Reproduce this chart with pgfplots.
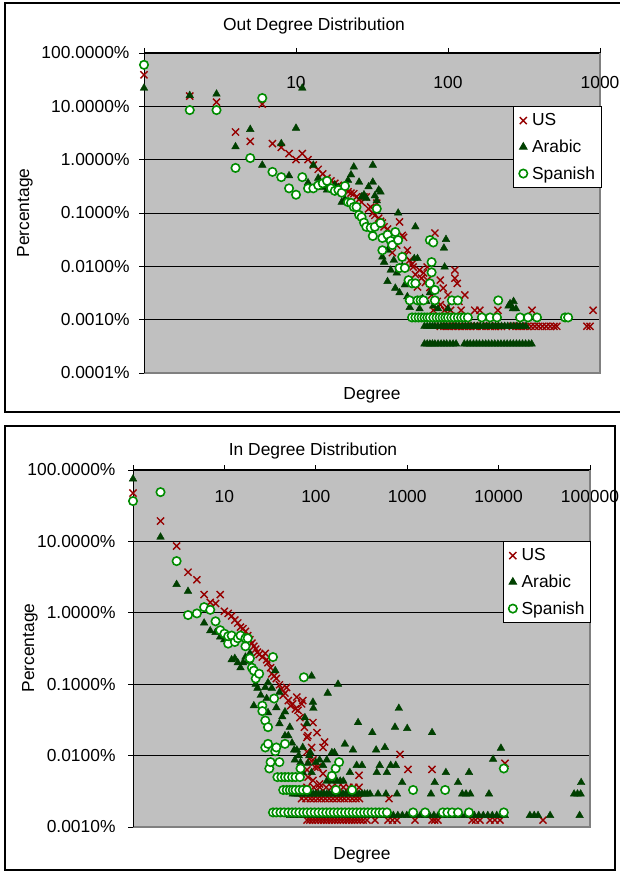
\documentclass[border=0pt]{standalone}
\usepackage{fontspec}
\setmainfont{Liberation Sans}
\usepackage{pgfplots}
\pgfplotsset{compat=1.18}
\definecolor{usred}{RGB}{150,0,0}
\definecolor{argreen}{RGB}{0,64,0}
\definecolor{spgreen}{RGB}{0,140,0}
\definecolor{plotbg}{RGB}{192,192,192}
\definecolor{edgegray}{RGB}{128,128,128}
\newcommand{\chartfont}{\fontsize{17.4}{20}\selectfont}

\pgfplotsset{
  usmark/.style={only marks, mark=x, mark size=5pt, color=usred, line width=1.4pt},
  armark/.style={only marks, mark=triangle*, mark size=4.4pt, color=argreen},
  spmark/.style={only marks, mark=*, mark size=4.2pt, color=spgreen, mark options={fill=white}, line width=1.6pt},
}

\begin{document}
\begin{tikzpicture}[x=1pt, y=1pt, font=\chartfont]
\useasboundingbox (0,0) rectangle (619,872);
\fill[white] (0,0) rectangle (619,872);
% panel frames
\draw[black, line width=1.3pt] (5,869) rectangle (624,460);
\draw[black, line width=1.3pt] (5,446) rectangle (615,2);

\node at (314,846) {Out Degree Distribution};
\node at (372,477) {Degree};
\node[rotate=90] at (25,659) {Percentage};

\node at (313,421) {In Degree Distribution};
\node at (362,17) {Degree};
\node[rotate=90] at (30,224) {Percentage};

% ---------- out degree ----------
\begin{axis}[at={(144pt,499pt)}, anchor=south west, width=456pt, height=320pt,
  scale only axis, xmode=log, ymode=log, clip=false,
  axis line style={draw=none},
  axis background/.style={fill=plotbg},
  xtick pos=right, xticklabel pos=right,
  ytick pos=left, yticklabel pos=left,
  tick align=outside, major tick length=5pt,
  tick style={black, line width=0.8pt},
  xminorticks=false, yminorticks=false,
  ymajorgrids, major grid style={black, line width=0.8pt},
  ticklabel style={font=\chartfont},
  xticklabel style={anchor=center, yshift=-34.5pt},
  legend cell align=left,
  legend image code/.code={\draw[#1] plot coordinates {(0pt,0pt)}; \path (-5pt,0pt) (6pt,0pt);},
  xmin=1, xmax=1000, ymin=0.0001, ymax=100,
  xtick={1,10,100,1000}, xticklabels={,10,100,1000},
  ytick={0.0001,0.001,0.01,0.1,1,10,100},
  yticklabels={0.0001\%,0.0010\%,0.0100\%,0.1000\%,1.0000\%,10.0000\%,100.0000\%},
  yticklabel style={xshift=-6pt},
  legend style={at={(1.003,0.8333)}, anchor=north east, draw=black, line width=0.8pt, fill=white,
    font=\chartfont, row sep=8.5pt, inner xsep=4pt, inner ysep=5pt}]
\draw[edgegray, line width=1.2pt] (rel axis cs:0,0) -- (rel axis cs:1,0) -- (rel axis cs:1,1);
\draw[black, line width=1pt] (rel axis cs:0,0) -- (rel axis cs:0,1) -- (rel axis cs:1,1);
\addplot[usmark] coordinates {
(1,39) (2,15.6) (3,12) (4,3.3) (5,2.2) (6,11) (7,2.0) (8,1.7) (9,1.3) (10,1.0) (11,1.3) (12,1.0)
(13,0.79) (14,0.66) (15,0.54) (16,0.45) (17,0.40) (18,0.36) (19,0.33) (20,0.30) (21,0.28) (22,0.25)
(23,0.236) (24,0.23) (25,0.20) (26,0.18) (27,0.16) (28,0.20) (29,0.20) (30,0.12) (31,0.129) (32,0.10)
(33,0.09) (34,0.153) (35,0.08) (36,0.07) (37,0.065) (38,0.055) (40,0.05) (42,0.044) (43,0.018) (44,0.03)
(46,0.025) (48,0.068) (50,0.038) (51,0.035) (52,0.016) (54,0.02) (56,0.013) (58,0.011) (59,0.0097)
(61,0.007) (63,0.0041) (65,0.0085) (67,0.006) (69,0.0075) (71,0.005) (73,0.0097) (73,0.0055) (76,0.004)
(78,0.0029) (80,0.0015) (82,0.042) (85,0.0022) (89,0.0055) (89,0.0019) (93,0.0039) (95,0.0015)
(98,0.0017) (100,0.0029) (104,0.0015) (111,0.0085) (111,0.006) (115,0.0048) (118,0.0022) (122,0.0015)
(129,0.0029) (150,0.0015) (162,0.0015) (213,0.0015) (357,0.0015) (900,0.0015)
(89,0.00075) (94,0.00075) (100,0.00075) (106,0.00075) (112,0.00075) (118,0.00075) (125,0.00075)
(132,0.00075) (140,0.00075) (148,0.00075) (155,0.00075) (167,0.00075) (178,0.00075) (190,0.00075)
(203,0.00075) (215,0.00075) (225,0.00075) (265,0.00075) (280,0.00075) (297,0.00075) (315,0.00075)
(333,0.00075) (352,0.00075) (373,0.00075) (395,0.00075) (418,0.00075) (443,0.00075) (470,0.00075)
(498,0.00075) (520,0.00075) (820,0.00075) (860,0.00075)
};
\addlegendentry{US}
\addplot[armark] coordinates {
(1,22) (2,16) (3,17) (4,1.75) (5,3.7) (6,0.79) (8,2.0) (9,0.5) (10,3.9) (11,22) (12,0.37) (13,0.79)
(14,0.45) (15,0.3) (16,0.27) (18,0.34) (19,0.3) (20,0.16) (21,0.18) (22,0.41) (23,0.52) (24,0.73)
(26,0.38) (27,0.2) (28,0.22) (29,0.19) (30,0.31) (32,0.79) (32,0.38) (33,0.21) (34,0.17) (35,0.27)
(36,0.247) (37,0.015) (38,0.012) (40,0.0052) (40,0.02) (42,0.0085) (44,0.013) (45,0.0039) (46,0.0075)
(47,0.1) (48,0.0032) (50,0.01) (52,0.0045) (54,0.0027) (56,0.0017) (60,0.014) (61,0.055) (63,0.014)
(65,0.0016) (68,0.0025) (72,0.0022) (76,0.0032) (80,0.0018) (86,0.0016) (94,0.022) (95,0.0097)
(97,0.032) (100,0.0016) (250,0.0018) (256,0.002) (267,0.0016) (270,0.0022) (280,0.0016)
(70,0.00075) (73,0.00075) (76,0.00075) (79,0.00075) (82,0.00075) (86,0.00075) (90,0.00075)
(94,0.00075) (98,0.00075) (103,0.00075) (108,0.00075) (113,0.00075) (118,0.00075) (124,0.00075)
(130,0.00075) (136,0.00075) (142,0.00075) (149,0.00075) (156,0.00075) (163,0.00075) (171,0.00075)
(179,0.00075) (187,0.00075) (196,0.00075) (205,0.00075) (215,0.00075) (225,0.00075) (236,0.00075)
(247,0.00075) (259,0.00075) (271,0.00075) (284,0.00075) (297,0.00075) (311,0.00075) (326,0.00075)
(70,0.00035) (73,0.00035) (76,0.00035) (79,0.00035) (82,0.00035) (86,0.00035) (90,0.00035)
(94,0.00035) (98,0.00035) (103,0.00035) (108,0.00035) (113,0.00035) (128,0.00035) (134,0.00035)
(140,0.00035) (147,0.00035) (154,0.00035) (161,0.00035) (169,0.00035) (177,0.00035) (185,0.00035)
(194,0.00035) (203,0.00035) (213,0.00035) (223,0.00035) (234,0.00035) (245,0.00035) (257,0.00035)
(269,0.00035) (282,0.00035) (295,0.00035) (309,0.00035) (324,0.00035) (340,0.00035) (355,0.00035)
};
\addlegendentry{Arabic}
\addplot[spmark] coordinates {
(1,60) (2,8.5) (3,8.5) (4,0.7) (5,1.07) (6,14.3) (7,0.59) (8,0.47) (9,0.29) (10,0.22) (11,0.47)
(12,0.29) (13,0.29) (14,0.33) (15,0.36) (16,0.40) (17,0.29) (18,0.26) (19,0.27) (20,0.24) (21,0.32)
(22,0.16) (23,0.155) (24,0.13) (25,0.13) (26,0.092) (27,0.084) (28,0.066) (29,0.055) (31,0.053)
(32,0.037) (33,0.055) (34,0.12) (36,0.065) (37,0.034) (37,0.02) (40,0.039) (42,0.03) (43,0.025)
(45,0.044) (47,0.031) (48,0.0093) (50,0.015) (52,0.0093) (55,0.0055) (56,0.0023) (58,0.0048)
(61,0.0048) (63,0.0023) (66,0.0023) (69,0.0023) (76,0.0048) (76,0.031) (78,0.012) (78,0.0077)
(80,0.028) (82,0.0036) (82,0.0023) (106,0.0023) (116,0.0023) (214,0.0023)
(58,0.0011) (61,0.0011) (64,0.0011) (67,0.0011) (70,0.0011) (73,0.0011) (76,0.0011) (80,0.0011)
(84,0.0011) (88,0.0011) (92,0.0011) (96,0.0011) (100,0.0011) (105,0.0011) (110,0.0011) (116,0.0011)
(122,0.0011) (128,0.0011) (135,0.0011) (167,0.0011) (189,0.0011) (210,0.0011) (298,0.0011)
(336,0.0011) (385,0.0011) (589,0.0011) (617,0.0011)
};
\addlegendentry{Spanish}
\end{axis}

% ---------- in degree ----------
\begin{axis}[at={(133pt,45pt)}, anchor=south west, width=457pt, height=357pt,
  scale only axis, xmode=log, ymode=log, clip=false,
  axis line style={draw=none},
  axis background/.style={fill=plotbg},
  xtick pos=right, xticklabel pos=right,
  ytick pos=left, yticklabel pos=left,
  tick align=outside, major tick length=5pt,
  tick style={black, line width=0.8pt},
  xminorticks=false, yminorticks=false,
  ymajorgrids, major grid style={black, line width=0.8pt},
  ticklabel style={font=\chartfont},
  xticklabel style={anchor=center, yshift=-31.5pt},
  legend cell align=left,
  legend image code/.code={\draw[#1] plot coordinates {(0pt,0pt)}; \path (-5pt,0pt) (6pt,0pt);},
  xmin=1, xmax=100000, ymin=0.001, ymax=100,
  xtick={1,10,100,1000,10000,100000}, xticklabels={,10,100,1000,10000,100000},
  ytick={0.001,0.01,0.1,1,10,100},
  yticklabels={0.0010\%,0.0100\%,0.1000\%,1.0000\%,10.0000\%,100.0000\%},
  yticklabel style={xshift=-9pt},
  legend style={at={(1.002,0.8)}, anchor=north east, draw=black, line width=0.8pt, fill=white,
    font=\chartfont, row sep=8.5pt, inner xsep=4pt, inner ysep=5pt}]
\draw[edgegray, line width=1.2pt] (rel axis cs:0,0) -- (rel axis cs:1,0) -- (rel axis cs:1,1);
\draw[black, line width=1pt] (rel axis cs:0,0) -- (rel axis cs:0,1) -- (rel axis cs:1,1);
\addplot[usmark] coordinates {
(1,47.6) (2,19.3) (3,8.6) (4,3.7) (5,2.9) (6,1.8) (7,1.4) (8,1.35) (9,1.8) (10,1.05) (11,0.98)
(12,0.9) (13,0.79) (14,0.72) (15,0.63) (16,0.6) (17,0.55) (18,0.48) (19,0.42) (20,0.375) (21,0.34)
(22,0.31) (23,0.28) (24,0.26) (26,0.24) (28,0.27) (29,0.22) (30,0.2) (32,0.17) (33,0.14) (35,0.13)
(37,0.12) (40,0.098) (42,0.085) (44,0.07) (46,0.075) (48,0.09) (50,0.059) (53,0.05) (56,0.053)
(60,0.045) (62,0.066) (64,0.043) (67,0.034) (70,0.053) (72,0.059) (75,0.025) (80,0.018) (80,0.0113)
(80,0.0063) (82,0.019) (82,0.005) (85,0.009) (90,0.013) (93,0.029) (93,0.0087) (93,0.0045)
(98,0.0069) (103,0.021) (105,0.0069) (110,0.004) (120,0.0056) (120,0.013) (125,0.0155) (297,0.0053)
(632,0.0025) (834,0.0104) (1020,0.0064) (1868,0.0064) (11750,0.0078)
(80,0.0036) (95,0.0036) (110,0.0036) (130,0.0036) (150,0.0036) (175,0.0036) (200,0.0036)
(230,0.0036) (260,0.0036) (297,0.0036)
(70,0.0025) (78,0.0025) (87,0.0025) (95,0.0025) (105,0.0025) (115,0.0025) (127,0.0025) (140,0.0025)
(154,0.0025) (170,0.0025) (187,0.0025) (205,0.0025) (226,0.0025) (250,0.0025) (275,0.0025) (300,0.0025)
(80,0.00125) (86,0.00125) (92,0.00125) (99,0.00125) (106,0.00125) (114,0.00125) (122,0.00125)
(131,0.00125) (140,0.00125) (150,0.00125) (161,0.00125) (173,0.00125) (186,0.00125) (200,0.00125)
(215,0.00125) (230,0.00125) (247,0.00125) (265,0.00125) (285,0.00125) (306,0.00125) (330,0.00125)
(363,0.00125) (444,0.00125) (617,0.00125) (690,0.00125) (774,0.00125) (1218,0.00125) (1868,0.00125)
(2000,0.00125) (2173,0.00125) (5117,0.00125) (5600,0.00125) (6255,0.00125) (8055,0.00125)
(9100,0.00125) (10360,0.00125) (30600,0.00125)
};
\addlegendentry{US}
\addplot[armark] coordinates {
(1,75) (2,11.5) (3,2.5) (4,2.0) (6,0.72) (7,0.56) (8,0.53) (9,0.46) (10,0.42) (12,0.22) (13,0.23)
(14,0.2) (15,0.17) (16,0.2) (17,0.24) (18,0.21) (19,0.27) (20,0.18) (21,0.155) (21,0.05) (22,0.1)
(23,0.088) (25,0.07) (28,0.09) (29,0.063) (30,0.105) (30,0.04) (33,0.088) (36,0.155) (37,0.047)
(40,0.077) (40,0.028) (43,0.035) (46,0.041) (46,0.019) (50,0.019) (52,0.025) (55,0.015) (58,0.012)
(59,0.0087) (62,0.012) (65,0.01) (68,0.008) (72,0.013) (72,0.0058) (76,0.034) (80,0.028) (82,0.0078)
(85,0.01) (87,0.011) (90,0.0058) (90,0.13) (93,0.056) (94,0.046) (100,0.008) (110,0.0087) (120,0.0073)
(132,0.0087) (135,0.075) (150,0.011) (160,0.011) (175,0.1) (208,0.0145) (236,0.0058) (255,0.012)
(280,0.0073) (290,0.029) (320,0.0073) (415,0.021) (457,0.012) (465,0.0058) (500,0.0073) (570,0.013)
(600,0.0058) (660,0.0073) (735,0.025) (750,0.0073) (810,0.046) (880,0.0042) (1000,0.024)
(1870,0.021) (2000,0.0042) (2650,0.0058) (3600,0.0042) (4750,0.0058) (8700,0.0089) (10600,0.0127)
(80000,0.0042)
(132,0.0044) (150,0.0044) (170,0.0044) (185,0.0044) (200,0.0044)
(56,0.0029) (60,0.0029) (64,0.0029) (68,0.0029) (72,0.0029) (77,0.0029) (82,0.0029) (88,0.0029)
(94,0.0029) (100,0.0029) (107,0.0029) (115,0.0029) (123,0.0029) (132,0.0029) (141,0.0029)
(151,0.0029) (162,0.0029) (173,0.0029) (185,0.0029) (198,0.0029) (212,0.0029) (227,0.0029)
(243,0.0029) (260,0.0029) (278,0.0029) (298,0.0029) (320,0.0029) (342,0.0029) (366,0.0029)
(392,0.0029) (480,0.0029) (586,0.0029) (774,0.0029) (1820,0.0029) (4000,0.0029) (4400,0.0029)
(4900,0.0029) (7850,0.0029) (67000,0.0029) (73000,0.0029) (79000,0.0029)
(52,0.00145) (58,0.00145) (65,0.00145) (73,0.00145) (82,0.00145) (92,0.00145) (103,0.00145)
(115,0.00145) (129,0.00145) (144,0.00145) (162,0.00145) (181,0.00145) (203,0.00145) (227,0.00145)
(254,0.00145) (285,0.00145) (319,0.00145) (357,0.00145) (400,0.00145) (448,0.00145) (502,0.00145)
(562,0.00145) (630,0.00145) (705,0.00145) (790,0.00145) (885,0.00145) (990,0.00145) (1110,0.00145)
(1240,0.00145) (1390,0.00145) (1560,0.00145) (1750,0.00145) (1960,0.00145) (2190,0.00145)
(2450,0.00145) (2750,0.00145) (3080,0.00145) (3450,0.00145) (3860,0.00145) (4320,0.00145)
(4840,0.00145) (5420,0.00145) (6070,0.00145) (6800,0.00145) (7620,0.00145) (8530,0.00145)
(9550,0.00145) (10700,0.00145) (11700,0.00145) (22000,0.00145) (24500,0.00145) (27000,0.00145)
(36600,0.00145) (77000,0.00145)
};
\addlegendentry{Arabic}
\addplot[spmark] coordinates {
(1,36.7) (2,49) (3,5.3) (4,0.93) (5,0.98) (6,1.2) (7,1.1) (8,0.76) (9,0.57) (10,0.51) (11,0.37)
(11,0.47) (12,0.48) (13,0.39) (14,0.44) (15,0.48) (17,0.34) (17,0.44) (18,0.44) (19,0.23) (20,0.17)
(21,0.155) (22,0.12) (24,0.14) (26,0.05) (26,0.042) (28,0.031) (28,0.013) (30,0.025) (30,0.0146)
(31,0.0066) (32,0.0081) (34,0.24) (35,0.063) (36,0.0115) (37,0.013) (40,0.0081) (46,0.0146)
(68,0.0066) (74,0.125) (150,0.0052) (165,0.0066) (180,0.0081) (11400,0.0066)
(38,0.005) (42,0.005) (46,0.005) (50,0.005) (55,0.005) (60,0.005) (67,0.005)
(44,0.0033) (48,0.0033) (52,0.0033) (56,0.0033) (60,0.0033) (66,0.0033) (72,0.0033) (80,0.0033)
(166,0.0033) (249,0.0033) (1160,0.0033) (2600,0.0033)
(34,0.0016) (37,0.0016) (41,0.0016) (45,0.0016) (50,0.0016) (55,0.0016) (60,0.0016) (66,0.0016)
(73,0.0016) (80,0.0016) (88,0.0016) (97,0.0016) (107,0.0016) (118,0.0016) (130,0.0016) (143,0.0016)
(157,0.0016) (173,0.0016) (190,0.0016) (209,0.0016) (230,0.0016) (253,0.0016) (278,0.0016)
(306,0.0016) (337,0.0016) (370,0.0016) (407,0.0016) (448,0.0016) (493,0.0016) (540,0.0016)
(600,0.0016) (1160,0.0016) (1570,0.0016) (2450,0.0016) (2750,0.0016) (3100,0.0016) (3600,0.0016)
(4740,0.0016) (11400,0.0016)
};
\addlegendentry{Spanish}
\end{axis}
\end{tikzpicture}
\end{document}
